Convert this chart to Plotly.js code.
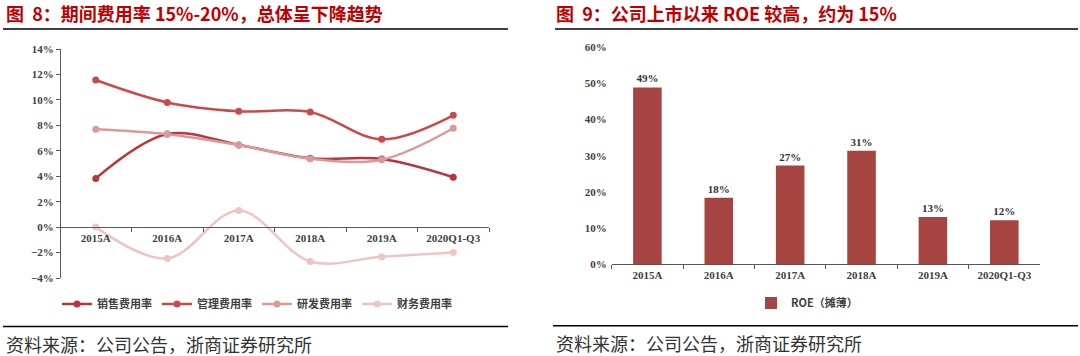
<!DOCTYPE html>
<html>
<head>
<meta charset="utf-8">
<script src="https://cdn.plot.ly/plotly-3.0.1.min.js"></script>
<style>html,body{margin:0;padding:0;background:#fff;}#chart{width:1080px;height:356px;}</style>
</head>
<body>
<div id="chart"></div>
<script>
// ---- data ----
const categories = ["2015A", "2016A", "2017A", "2018A", "2019A", "2020Q1-Q3"];
const salesRate = [3.83, 7.32, 6.46, 5.41, 5.35, 3.92];      // 销售费用率
const adminRate = [11.56, 9.80, 9.10, 9.05, 6.90, 8.79];     // 管理费用率
const rdRate = [7.69, 7.30, 6.45, 5.38, 5.30, 7.77];         // 研发费用率
const finRate = [0.0, -2.46, 1.30, -2.70, -2.33, -1.99];     // 财务费用率
const roe = [48.9, 18.4, 27.3, 31.4, 13.1, 12.2];            // ROE（摊薄）

const H = 356, W = 1080;
const py = v => 1 - v / H;
const px = v => v / W;

const tickFont = {family: "Liberation Serif, DejaVu Serif, serif", size: 11, color: "#404040", weight: "bold"};
const legFont = {family: "Noto Sans CJK SC, sans-serif", size: 11, color: "#404040", weight: "bold"};

function lineTrace(name, y, color) {
  return {
    type: "scatter", mode: "lines+markers", name: name, x: categories, y: y,
    xaxis: "x", yaxis: "y", legend: "legend",
    line: {color: color, width: 2.5, shape: "spline", smoothing: 1},
    marker: {color: color, size: 7, symbol: "circle"},
    hoverinfo: "skip"
  };
}

const traces = [
  lineTrace("销售费用率", salesRate, "#B5373A"),
  lineTrace("管理费用率", adminRate, "#C84A4A"),
  lineTrace("研发费用率", rdRate, "#DB9A99"),
  lineTrace("财务费用率", finRate, "#EEC4C4"),
  {
    type: "bar", name: "ROE（摊薄）", x: categories, y: roe,
    xaxis: "x2", yaxis: "y2", legend: "legend2",
    marker: {color: "#A64442"},
    texttemplate: "%{y:.0f}%", textposition: "outside", cliponaxis: false,
    textfont: {family: "Liberation Serif, DejaVu Serif, serif", size: 11, color: "#333", weight: "bold"},
    hoverinfo: "skip"
  }
];

const layout = {
  width: W, height: H, margin: {l: 0, r: 0, t: 0, b: 0},
  paper_bgcolor: "#fff", plot_bgcolor: "rgba(0,0,0,0)",
  bargap: 0.6,
  xaxis: {
    domain: [px(60), px(489)], range: [-0.5, 5.5], type: "category",
    anchor: "free", position: py(227.3),
    showline: true, linecolor: "#595959", linewidth: 1,
    ticks: "outside", tickson: "boundaries", ticklen: 4, tickcolor: "#595959",
    showgrid: false, zeroline: false, tickfont: tickFont, fixedrange: true
  },
  yaxis: {
    domain: [py(278), py(49)], range: [-4, 14], dtick: 2, ticksuffix: "%",
    anchor: "free", position: px(60),
    showline: true, linecolor: "#595959", linewidth: 1,
    ticks: "outside", ticklen: 4, tickcolor: "#595959",
    showgrid: false, zeroline: false, tickfont: tickFont, fixedrange: true
  },
  xaxis2: {
    domain: [px(611.7), px(1040)], range: [-0.5, 5.5], type: "category",
    anchor: "y2",
    showline: true, linecolor: "#595959", linewidth: 1,
    ticks: "outside", tickson: "boundaries", ticklen: 4, tickcolor: "#595959",
    showgrid: false, zeroline: false, tickfont: tickFont, fixedrange: true
  },
  yaxis2: {
    domain: [py(264.3), py(47.3)], range: [0, 60], dtick: 10, ticksuffix: "%",
    anchor: "x2", showline: false, ticks: "", ticklabelstandoff: 4,
    showgrid: false, zeroline: false, tickfont: tickFont, fixedrange: true
  },
  showlegend: true,
  legend: {
    orientation: "h", x: px(257), xanchor: "center", y: py(304), yanchor: "middle",
    font: legFont, bgcolor: "rgba(0,0,0,0)", itemwidth: 30, tracegroupgap: 0
  },
  legend2: {
    orientation: "h", x: px(807), xanchor: "center", y: py(303), yanchor: "middle",
    font: legFont, bgcolor: "rgba(0,0,0,0)"
  },
  annotations: [
    {text: "图  8：期间费用率 15%-20%，总体呈下降趋势", xref: "paper", yref: "paper",
     x: px(4), y: py(13), xanchor: "left", yanchor: "middle", showarrow: false,
     font: {family: "Noto Sans CJK SC, sans-serif", size: 18, color: "#C00000", weight: "bold"}},
    {text: "图  9：公司上市以来 ROE 较高，约为 15%", xref: "paper", yref: "paper",
     x: px(554), y: py(13), xanchor: "left", yanchor: "middle", showarrow: false,
     font: {family: "Noto Sans CJK SC, sans-serif", size: 18, color: "#C00000", weight: "bold"}},
    {text: "资料来源：公司公告，浙商证券研究所", xref: "paper", yref: "paper",
     x: px(4), y: py(344), xanchor: "left", yanchor: "middle", showarrow: false,
     font: {family: "Noto Sans CJK SC, sans-serif", size: 18, color: "#333"}},
    {text: "资料来源：公司公告，浙商证券研究所", xref: "paper", yref: "paper",
     x: px(554), y: py(343), xanchor: "left", yanchor: "middle", showarrow: false,
     font: {family: "Noto Sans CJK SC, sans-serif", size: 18, color: "#333"}}
  ],
  shapes: [
    {type: "line", xref: "paper", yref: "paper", x0: px(3), x1: px(508), y0: py(29), y1: py(29), line: {color: "#000", width: 1.5}},
    {type: "line", xref: "paper", yref: "paper", x0: px(555), x1: px(1078), y0: py(29), y1: py(29), line: {color: "#000", width: 1.5}},
    {type: "line", xref: "paper", yref: "paper", x0: px(3), x1: px(508), y0: py(326.5), y1: py(326.5), line: {color: "#000", width: 1.5}},
    {type: "line", xref: "paper", yref: "paper", x0: px(553), x1: px(1078), y0: py(325.7), y1: py(325.7), line: {color: "#000", width: 1.5}}
  ]
};

Plotly.newPlot("chart", traces, layout, {displayModeBar: false, staticPlot: true});
</script>
</body>
</html>
